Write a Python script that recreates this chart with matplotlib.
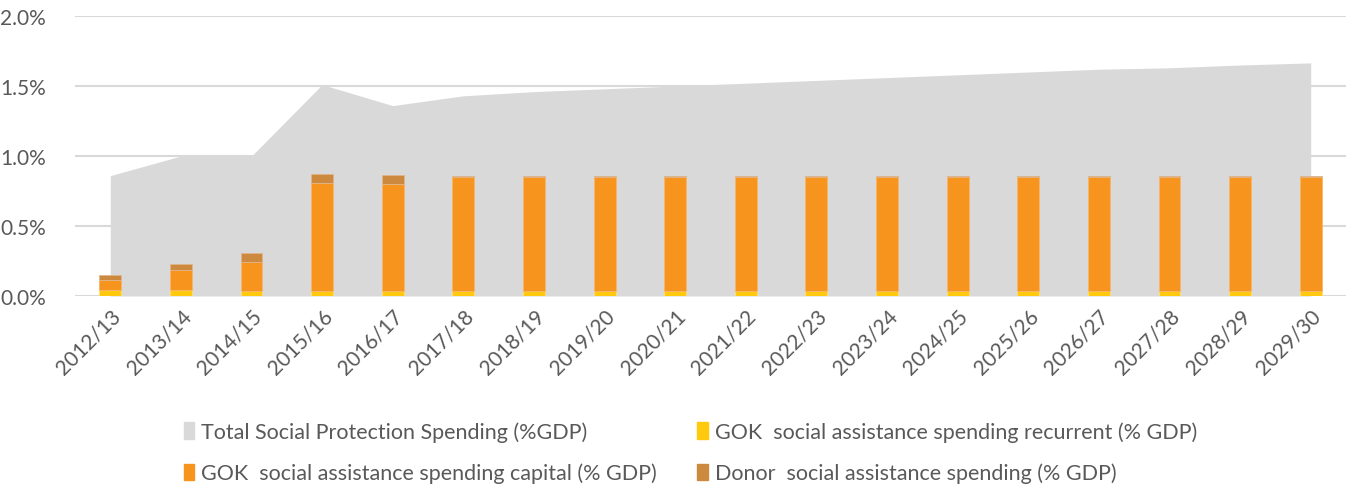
import matplotlib.pyplot as plt
import numpy as np
from matplotlib.patches import Patch
from matplotlib.ticker import FuncFormatter

plt.rcParams['font.family'] = ['Lato', 'DejaVu Sans']

years = ['2012/13', '2013/14', '2014/15', '2015/16', '2016/17', '2017/18',
         '2018/19', '2019/20', '2020/21', '2021/22', '2022/23', '2023/24',
         '2024/25', '2025/26', '2026/27', '2027/28', '2028/29', '2029/30']

# all values in % of GDP
total_sp = [0.86, 1.00, 1.00, 1.51, 1.36, 1.43, 1.46, 1.48, 1.50, 1.52,
            1.54, 1.56, 1.58, 1.60, 1.62, 1.63, 1.65, 1.665]
gok_recurrent = [0.043, 0.040, 0.036, 0.038, 0.038, 0.038, 0.038, 0.038, 0.038,
                 0.038, 0.038, 0.038, 0.038, 0.038, 0.038, 0.038, 0.038, 0.038]
gok_capital = [0.068, 0.143, 0.204, 0.767, 0.762, 0.815, 0.815, 0.814, 0.814,
               0.814, 0.814, 0.813, 0.813, 0.813, 0.813, 0.812, 0.812, 0.812]
donor = [0.037, 0.045, 0.067, 0.064, 0.064, 0.005, 0.004, 0.004, 0.004,
         0.004, 0.004, 0.004, 0.004, 0.004, 0.004, 0.004, 0.004, 0.004]

c_total = '#D9D9D9'
c_rec = '#FFC90E'
c_cap = '#F7941D'
c_don = '#CD8A3E'
txt = '#595959'

fig = plt.figure(figsize=(13.46, 4.89), dpi=100)
ax = fig.add_axes([75/1346, 1-297/489, 1-75/1346, 280/489])

x = np.arange(len(years))
ax.fill_between(x, 0, total_sp, color=c_total, lw=0, zorder=1)

w = 0.31
rec = np.array(gok_recurrent)
cap = np.array(gok_capital)
don = np.array(donor)
ax.bar(x, rec, w, color=c_rec, edgecolor='#FFE07A', lw=0.6, zorder=3)
ax.bar(x, cap, w, bottom=rec, color=c_cap, edgecolor='#F9B56A', lw=0.6, zorder=3)
ax.bar(x, don, w, bottom=rec + cap, color=c_don, edgecolor='#E0B58A', lw=0.6, zorder=3)

ax.set_xlim(-0.5, len(years) - 0.5)
ax.set_ylim(0, 2.0)
ax.set_yticks([0, 0.5, 1.0, 1.5, 2.0])
ax.yaxis.set_major_formatter(FuncFormatter(lambda v, p: f'{v:.1f}%'))
ax.grid(axis='y', color='#D9D9D9', lw=1.5, zorder=0)
ax.set_axisbelow(True)
for s in ax.spines.values():
    s.set_visible(False)
ax.axhline(0, color='#D9D9D9', lw=1.5, zorder=2)

ax.set_xticks(x)
ax.set_xticklabels(years, rotation=45, ha='right', rotation_mode='anchor')
ax.tick_params(axis='x', length=0, labelsize=15, labelcolor=txt, pad=7)
ax.tick_params(axis='y', length=0, labelsize=15, labelcolor=txt, pad=21)

handles = [Patch(color=c_total), Patch(color=c_cap), Patch(color=c_rec), Patch(color=c_don)]
labels = ['Total Social Protection Spending (%GDP)',
          'GOK  social assistance spending capital (% GDP)',
          'GOK  social assistance spending recurrent (% GDP)',
          'Donor  social assistance spending (% GDP)']
leg = fig.legend(handles, labels, ncol=2, loc='upper left', bbox_to_anchor=(175/1346, 1-414/489),
                 frameon=False, fontsize=15.5, handlelength=0.5, handleheight=0.8,
                 handletextpad=0.3, columnspacing=1.9, labelspacing=0.95,
                 labelcolor=txt, borderaxespad=0)

fig.savefig('out.png', dpi=100)
